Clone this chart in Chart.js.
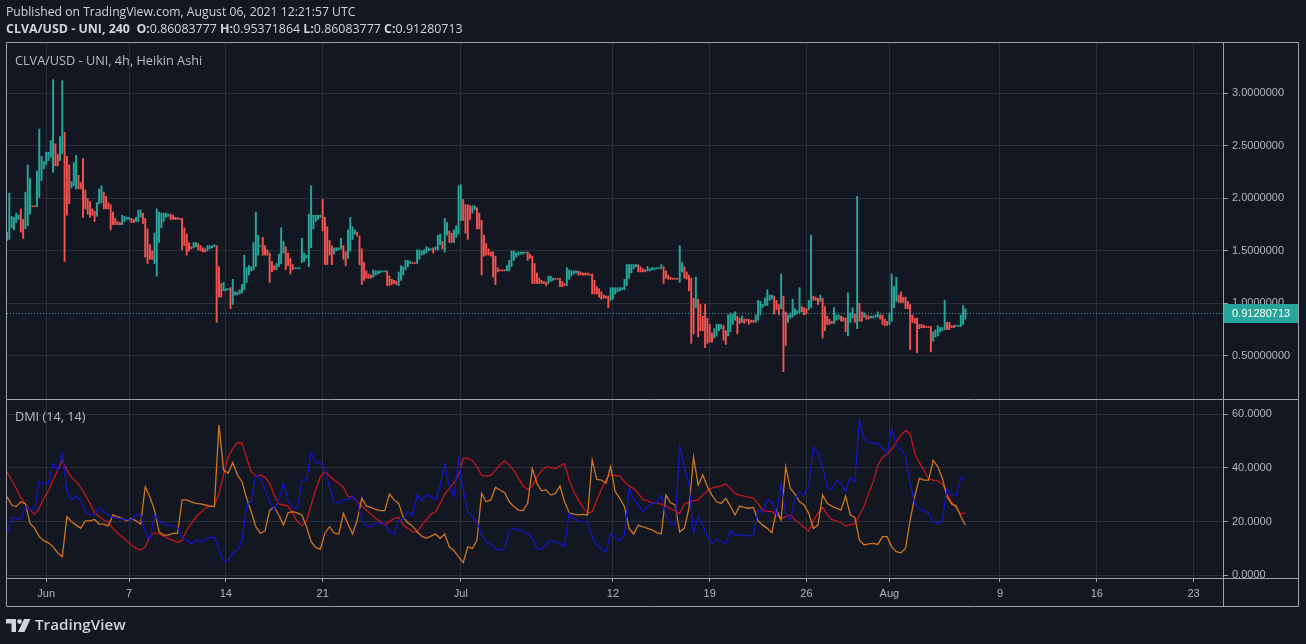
<!DOCTYPE html>
<html>
<head>
<meta charset="utf-8">
<script src="https://cdn.jsdelivr.net/npm/chart.js@4.4.0/dist/chart.umd.min.js"></script>
<style>
html, body { margin: 0; padding: 0; background: #131722; }
#wrap { position: relative; width: 1306px; height: 644px; overflow: hidden; background: #131722; }
#c { position: absolute; left: 0; top: 0; }
.t { position: absolute; white-space: nowrap; font-family: "Open Sans", sans-serif; line-height: 1; }
.b { font-weight: 700; }
</style>
</head>
<body>
<div id="wrap">
  <canvas id="c" width="1306" height="644"></canvas>
  <div class="t" style="left:6px;top:6px;font-size:12.2px;color:#d1d4dc">Published on TradingView.com, August 06, 2021 12:21:57 UTC</div>
  <div class="t" style="left:6px;top:23px;font-size:12.4px;color:#d1d4dc"><span class="b">CLVA/USD - UNI, 240</span>&nbsp; <span class="b">O:</span>0.86083777 <span class="b">H:</span>0.95371864 <span class="b">L:</span>0.86083777 <span class="b">C:</span>0.91280713</div>
  <div class="t" style="left:15px;top:54px;font-size:12.7px;color:#b8bbc3">CLVA/USD - UNI, 4h, Heikin Ashi</div>
  <div class="t" style="left:15px;top:410px;font-size:12.7px;color:#b8bbc3">DMI (14, 14)</div>
  <svg style="position:absolute;left:6px;top:619px" width="25" height="13" viewBox="0 0 25 13">
    <path d="M0 0h10v13h-4.5v-8.5h-5.5z" fill="#d1d4dc"/>
    <circle cx="13.5" cy="2.6" r="2.4" fill="#d1d4dc"/>
    <path d="M18 0h6.5l-6 13h-6.5z" fill="#d1d4dc"/>
  </svg>
  <div class="t" style="left:35px;top:617px;font-size:15.2px;font-weight:600;color:#d1d4dc">TradingView</div>
</div>
<script>
// Heikin Ashi 4h candles, first candle = May 29 04:00 UTC
const candleLows = [
  1.60,1.61,1.72,1.70,1.77,1.80,1.68,1.62,1.71,1.74,
  1.85,1.92,1.92,1.92,2.01,2.17,2.28,2.32,2.36,2.39,
  2.25,2.31,2.31,2.36,2.43,1.40,1.84,1.95,2.10,2.12,
  2.09,2.09,2.09,1.82,1.90,1.85,1.82,1.84,1.78,1.83,
  1.95,1.96,1.90,1.90,1.90,1.70,1.75,1.75,1.75,1.75,
  1.75,1.78,1.80,1.80,1.77,1.77,1.78,1.78,1.82,1.76,
  1.44,1.38,1.42,1.42,1.38,1.26,1.58,1.72,1.78,1.82,
  1.83,1.80,1.80,1.80,1.80,1.80,1.51,1.55,1.46,1.50,
  1.52,1.53,1.54,1.51,1.50,1.49,1.49,1.50,1.52,1.53,
  1.54,0.82,1.06,1.06,1.12,1.12,1.13,0.95,0.99,1.08,
  1.08,1.09,1.10,1.13,1.20,1.27,1.31,1.32,1.35,1.46,
  1.54,1.46,1.46,1.46,1.20,1.30,1.32,1.32,1.35,1.38,
  1.48,1.32,1.36,1.28,1.32,1.33,1.33,1.33,1.39,1.40,
  1.43,1.35,1.53,1.71,1.78,1.80,1.82,1.69,1.37,1.37,
  1.46,1.37,1.47,1.50,1.51,1.52,1.42,1.36,1.43,1.50,
  1.61,1.66,1.64,1.37,1.18,1.22,1.24,1.24,1.24,1.25,
  1.27,1.28,1.29,1.30,1.30,1.17,1.17,1.18,1.19,1.18,
  1.17,1.22,1.27,1.32,1.35,1.38,1.38,1.38,1.38,1.42,
  1.46,1.47,1.48,1.50,1.51,1.48,1.51,1.51,1.56,1.52,
  1.49,1.65,1.58,1.58,1.58,1.63,1.66,1.79,1.79,1.67,
  1.61,1.80,1.86,1.89,1.71,1.71,1.27,1.45,1.46,1.46,
  1.45,1.25,1.18,1.30,1.31,1.31,1.31,1.31,1.31,1.35,
  1.41,1.44,1.46,1.47,1.47,1.48,1.41,1.43,1.19,1.19,
  1.19,1.19,1.19,1.19,1.17,1.19,1.21,1.22,1.23,1.23,
  1.16,1.16,1.17,1.17,1.23,1.26,1.28,1.29,1.27,1.27,
  1.27,1.27,1.27,1.27,1.09,1.09,1.09,1.06,1.04,1.05,
  1.05,0.96,1.03,1.04,1.09,1.11,1.12,1.13,1.13,1.17,
  1.24,1.29,1.33,1.35,1.30,1.30,1.30,1.30,1.31,1.31,
  1.32,1.32,1.33,1.33,1.33,1.19,1.24,1.23,1.23,1.23,
  1.23,1.23,1.20,1.30,1.24,1.23,1.12,0.62,0.71,0.96,
  0.68,0.74,0.74,0.58,0.62,0.63,0.63,0.67,0.69,0.74,
  0.76,0.65,0.61,0.69,0.73,0.80,0.84,0.71,0.81,0.82,
  0.81,0.83,0.80,0.82,0.82,0.82,0.84,0.89,0.96,0.98,
  0.98,1.03,1.04,0.90,0.94,0.89,0.95,0.35,0.60,0.82,
  0.86,0.87,0.89,0.90,0.91,0.92,0.89,0.90,0.94,0.96,
  1.03,1.03,0.99,1.02,0.67,0.74,0.80,0.80,0.81,0.81,
  0.84,0.85,0.83,0.83,0.73,0.69,0.82,0.86,0.82,0.76,
  0.83,0.83,0.87,0.85,0.85,0.86,0.86,0.87,0.87,0.85,
  0.80,0.79,0.79,0.80,0.83,0.96,1.02,1.01,1.01,1.01,
  0.95,0.95,0.56,0.82,0.81,0.53,0.76,0.77,0.77,0.77,
  0.77,0.54,0.64,0.68,0.69,0.73,0.74,0.75,0.75,0.75,
  0.77,0.77,0.78,0.78,0.78,0.80,0.85
];
const candleHighs = [
  1.68,2.05,1.83,1.82,1.86,1.84,1.90,1.80,2.06,2.32,
  2.19,1.93,1.93,2.26,2.66,2.40,2.35,2.44,2.44,2.55,
  3.13,2.52,2.42,2.59,3.12,2.63,2.40,2.32,2.16,2.34,
  2.41,2.22,2.15,2.38,2.08,2.00,1.97,1.90,1.88,1.96,
  2.09,2.12,2.06,2.02,1.96,1.94,1.87,1.81,1.78,1.77,
  1.84,1.83,1.82,1.82,1.81,1.80,1.82,1.89,1.89,1.86,
  1.81,1.71,1.56,1.50,1.67,1.90,1.87,1.86,1.86,1.86,
  1.85,1.85,1.84,1.82,1.82,1.81,1.81,1.72,1.66,1.58,
  1.54,1.58,1.58,1.57,1.55,1.53,1.52,1.55,1.55,1.55,
  1.56,1.55,1.35,1.19,1.20,1.14,1.14,1.15,1.23,1.11,
  1.11,1.13,1.18,1.46,1.34,1.36,1.35,1.58,1.87,1.65,
  1.55,1.63,1.55,1.51,1.48,1.40,1.36,1.38,1.47,1.72,
  1.59,1.54,1.48,1.43,1.37,1.34,1.34,1.34,1.62,1.48,
  1.46,1.85,2.12,1.84,1.84,1.84,1.84,1.99,1.82,1.73,
  1.60,1.55,1.53,1.53,1.53,1.62,1.55,1.49,1.70,1.82,
  1.73,1.70,1.68,1.64,1.52,1.39,1.31,1.28,1.27,1.32,
  1.31,1.31,1.31,1.31,1.31,1.31,1.26,1.23,1.22,1.21,
  1.30,1.36,1.35,1.41,1.41,1.40,1.39,1.39,1.51,1.51,
  1.50,1.51,1.54,1.53,1.52,1.53,1.54,1.65,1.66,1.59,
  1.81,1.77,1.69,1.67,1.70,1.74,2.12,2.13,1.99,1.94,
  1.94,1.93,1.93,1.93,1.91,1.86,1.79,1.65,1.57,1.52,
  1.49,1.49,1.45,1.34,1.32,1.32,1.32,1.36,1.41,1.50,
  1.50,1.48,1.49,1.49,1.49,1.49,1.49,1.47,1.45,1.38,
  1.29,1.24,1.22,1.21,1.20,1.26,1.26,1.24,1.24,1.24,
  1.24,1.21,1.19,1.34,1.32,1.31,1.31,1.31,1.31,1.30,
  1.29,1.29,1.29,1.28,1.28,1.22,1.16,1.14,1.11,1.08,
  1.07,1.07,1.15,1.15,1.15,1.15,1.15,1.15,1.23,1.37,
  1.37,1.37,1.37,1.37,1.37,1.35,1.33,1.32,1.35,1.33,
  1.34,1.34,1.34,1.34,1.37,1.35,1.31,1.27,1.25,1.24,
  1.24,1.24,1.55,1.39,1.35,1.30,1.27,1.24,1.05,1.25,
  1.04,0.99,0.88,0.99,0.86,0.80,0.72,0.76,0.80,0.80,
  0.80,0.79,0.74,0.89,0.91,0.90,0.92,0.88,0.86,0.88,
  0.85,0.85,0.85,0.84,0.84,0.89,1.03,1.02,0.99,1.05,
  1.13,1.08,1.08,1.07,1.03,0.99,1.28,1.07,0.92,0.89,
  0.91,1.04,0.95,0.93,1.15,0.97,0.96,0.95,1.03,1.65,
  1.07,1.06,1.05,1.08,1.05,0.97,0.88,0.85,0.83,0.96,
  0.89,0.89,0.88,0.87,0.86,1.10,0.91,0.96,0.90,2.02,
  1.00,0.92,0.91,0.89,0.88,0.88,0.88,0.89,0.92,0.89,
  0.89,0.85,0.83,0.91,1.28,1.16,1.25,1.08,1.11,1.06,
  1.06,1.02,0.99,0.89,0.86,0.86,0.80,0.80,0.79,0.78,
  0.78,0.78,0.73,0.75,0.79,0.77,0.77,1.03,0.82,0.82,
  0.79,0.79,0.79,0.79,0.89,0.98,0.95
];
// u = rising (teal), d = falling (red)
const candleDir =
  "uuuuuudduu" + "udduuuuuuu" + "udduuddduu" + "uddddddddu" + "uudddddddd" +
  "uuuudduuud" + "dddduuuuuu" + "uddddddddd" + "duudddduuu" + "uddduuuduu" +
  "uuuuuuuuuu" + "udddddduuu" + "udddduuuuu" + "uuuuuuuddd" + "dduuuudduu" +
  "uudddddddu" + "uuuuuddddd" + "uuuuuudduu" + "uuuuuduuud" + "uudduuuudd" +
  "dduudddddd" + "ddddddduuu" + "uuuuuudddd" + "ddddduuudd" + "ddduuuuudd" +
  "dddddddddd" + "dduuuuuuuu" + "uuuudddduu" + "uuuuuddddd" + "dduudddddu" +
  "ddddddduuu" + "udduuuuddu" + "ddddduuuuu" + "uuuddduddu" + "uuuuuddduu" +
  "dddudddddu" + "uuddduuudu" + "ddudduuuud" + "ddduuuuddd" + "dddddddddd" +
  "dduuuuuudd" + "dduuuuu";
const lastClose = 0.91280713;

// DMI (14, 14) values, one every second candle
const adx = [
  38.6,35.5,32.4,29.0,26.6,24.3,22.7,25.0,28.7,31.5,
  35.5,39.2,42.7,39.2,36.5,34.9,32.8,29.9,26.8,23.3,
  21.8,20.6,19.6,17.5,15.6,14.4,12.8,11.3,10.0,9.4,
  10.6,14.4,16.0,15.4,14.6,13.8,13.1,12.2,13.1,16.9,
  19.3,21.8,23.3,25.0,25.8,25.8,30.5,37.4,44.2,47.3,
  49.4,49.4,43.6,38.6,37.0,37.4,36.5,34.3,29.9,26.6,
  26.2,25.8,23.1,20.0,18.4,20.3,26.2,32.0,36.7,38.6,37.0,
  35.5,34.3,32.8,29.3,29.3,27.4,25.8,24.3,22.8,21.2,
  20.0,18.7,20.0,21.2,21.6,18.7,17.5,16.2,16.2,18.7,
  20.6,22.8,23.7,26.8,30.3,32.4,34.5,37.4,43.6,43.6,
  42.7,40.5,37.2,37.0,37.2,39.2,41.1,42.7,41.1,39.0,
  36.1,33.3,32.0,33.3,36.5,39.0,40.5,40.1,39.8,40.7,
  41.7,35.5,31.2,28.1,25.3,23.1,23.7,28.1,32.0,35.7,
  37.6,37.2,37.0,34.9,33.3,32.4,30.5,28.3,
  27.8,27.0,26.8,26.5,25.8,24.9,24.1,23.1,26.5,27.4,
  27.8,28.1,29.9,31.5,32.6,33.0,33.3,34.0,32.4,30.5,
  29.9,29.5,29.0,28.7,26.8,24.1,23.9,23.7,22.5,21.2,
  21.8,22.5,20.6,19.3,17.9,16.5,20.3,23.1,25.3,22.5,
  20.8,20.3,19.6,18.4,18.9,19.3,22.5,25.8,30.5,34.9,
  41.1,43.9,45.2,46.9,49.8,52.3,53.9,52.9,45.4,42.0,
  39.2,36.0,35.5,35.2,34.0,30.5,27.4,25.0,22.8,23.4
];
const plusDI = [
  15.0,21.6,21.2,20.8,25.6,24.3,24.9,34.9,34.0,34.3,
  41.7,39.2,45.4,31.2,28.0,29.5,28.0,23.7,22.5,22.5,
  25.3,23.7,22.5,21.6,21.2,21.0,20.8,20.6,22.5,22.5,
  16.2,13.4,22.5,20.0,19.3,18.7,18.4,17.9,14.1,13.1,
  11.9,13.1,12.5,13.1,14.1,14.1,9.4,5.4,5.4,8.4,
  9.2,13.1,25.6,28.0,37.4,36.1,31.8,27.4,24.3,28.1,
  34.3,28.1,25.3,24.9,35.5,35.5,45.7,42.0,42.0,39.0,33.0,
  27.4,26.8,28.1,28.1,29.5,27.4,20.6,18.4,18.1,19.6,
  19.3,19.1,16.2,15.4,20.6,20.8,23.7,22.5,29.9,27.8,
  29.9,29.3,28.1,33.6,41.5,33.0,29.5,43.0,31.8,23.7,
  21.8,20.0,15.0,12.5,11.6,10.0,9.4,9.7,16.2,17.5,
  16.9,16.6,15.6,13.8,10.0,9.7,11.3,13.1,12.5,11.9,
  10.6,23.1,21.2,20.3,20.0,19.8,14.4,11.3,10.0,8.8,
  15.6,13.8,13.1,15.0,32.4,28.3,26.2,23.7,
  25.6,26.8,26.8,29.9,22.5,19.3,18.9,48.0,40.5,33.6,
  15.7,21.8,18.7,14.4,11.9,13.4,12.5,11.9,16.6,15.0,
  15.0,15.0,14.6,15.0,24.3,23.3,28.1,27.4,22.5,34.3,
  22.8,20.6,28.3,31.2,29.9,33.6,47.9,45.7,40.5,32.8,
  32.0,35.2,34.3,31.2,36.5,34.9,58.0,51.0,49.5,49.2,
  49.2,47.3,45.2,54.5,48.5,46.7,44.2,34.3,26.8,24.6,
  24.1,23.1,20.0,19.3,20.6,32.4,29.9,29.9,36.1,36.5
];
const minusDI = [
  29.3,26.2,25.6,27.4,26.6,19.3,17.5,14.4,12.9,12.1,
  10.6,8.4,6.9,21.8,20.0,18.7,17.5,20.3,20.3,20.8,
  19.1,19.1,18.4,22.5,21.8,21.2,20.3,21.2,20.3,19.1,
  33.0,29.3,24.3,16.2,15.0,15.0,15.6,15.6,28.1,28.1,
  27.4,26.8,26.6,26.2,25.8,25.6,56.0,39.2,38.0,42.0,
  37.4,34.9,28.7,23.7,18.1,15.6,16.6,24.3,25.3,22.5,
  18.7,23.3,23.7,23.3,22.5,18.1,12.5,10.4,9.7,15.7,18.1,
  15.7,15.4,23.1,19.1,15.4,20.6,28.7,25.8,25.3,24.6,
  24.1,24.1,30.3,28.1,26.8,21.6,19.6,18.4,16.2,14.6,
  13.8,14.6,15.4,13.8,15.4,10.6,9.2,6.9,4.7,10.6,
  10.0,13.1,30.5,27.4,28.1,32.8,31.8,30.8,27.4,25.6,
  24.3,24.1,26.8,39.8,34.3,31.5,31.8,29.9,30.5,33.3,
  27.4,23.3,22.8,22.5,22.7,22.5,43.0,35.7,35.5,34.3,
  40.5,31.2,28.7,25.6,17.5,15.4,18.7,18.1,
  17.5,16.9,15.9,15.4,29.9,27.0,26.2,16.2,17.5,25.0,
  44.0,33.6,37.4,33.0,29.9,27.4,26.8,28.7,25.8,22.5,
  25.8,25.3,25.0,25.3,20.3,18.7,17.5,15.9,24.3,20.6,
  40.5,32.4,30.3,27.4,26.2,23.1,17.5,18.7,29.9,26.8,
  25.8,25.0,24.3,29.5,22.5,21.6,13.1,11.3,11.7,11.9,
  11.5,14.4,14.4,10.6,8.8,8.4,10.0,20.6,29.3,36.1,
  35.5,35.5,42.9,40.5,36.1,29.3,26.6,25.8,21.9,18.7
];

// x axis: candle index; day labels at midnight of these days
const dayTickIdx = [17, 53, 95, 137, 197, 263, 305, 347, 383, 431, 473, 515];
const dayTickLabels = ['Jun', '7', '14', '21', 'Jul', '12', '19', '26', 'Aug', '9', '16', '23'];
const priceTicks = [0.5, 1.0, 1.5, 2.0, 2.5, 3.0];
const priceTickLabels = ['0.50000000', '1.0000000', '1.5000000', '2.0000000', '2.5000000', '3.0000000'];
const dmiTicks = [0, 20, 40, 60];
const dmiTickLabels = ['0.0000', '20.0000', '40.0000', '60.0000'];

const UP = '#26a69a', DOWN = '#ef5350';
const GRID = '#2a2e39', AXIS_TEXT = '#b2b5be', FRAME = '#9ea1aa', BG = '#131722';
const axisFont = { family: '"Liberation Sans", Arial, sans-serif', size: 11 };

const candleData = candleLows.map((lo, i) => ({ x: i, y: [lo, candleHighs[i]] }));
const dmiPoints = arr => arr.map((v, k) => ({ x: k * 2, y: v }));

const framePlugin = {
  id: 'frame',
  beforeDraw(chart) {
    const c = chart.ctx;
    c.save();
    c.fillStyle = BG;
    c.fillRect(0, 0, chart.width, chart.height);
    c.restore();
  },
  afterDatasetsDraw(chart) {
    const c = chart.ctx, a = chart.chartArea;
    const py = Math.round(chart.scales.y.getPixelForValue(lastClose)) + 0.5;
    c.save();
    c.strokeStyle = UP;
    c.lineWidth = 1;
    c.setLineDash([1, 2]);
    c.beginPath();
    c.moveTo(a.left, py);
    c.lineTo(a.right, py);
    c.stroke();
    c.restore();
  },
  afterDraw(chart) {
    const c = chart.ctx, a = chart.chartArea;
    const yDiv = Math.round(chart.scales.y.bottom) + 0.5;
    const yAx = Math.round(a.bottom) + 0.5;
    const xAx = Math.round(a.right) + 0.5;
    const L = 6.5, T = 42.5, R = 1298.5, B = 606.5;
    c.save();
    // clear below x-axis line in the price-axis column
    c.fillStyle = BG;
    c.fillRect(xAx + 0.5, yAx + 0.5, R - xAx - 1, B - yAx - 1);
    // price label
    const py = Math.round(chart.scales.y.getPixelForValue(lastClose));
    c.fillStyle = UP;
    c.fillRect(xAx + 0.5, py - 9, R - xAx - 0.5, 19);
    c.fillStyle = '#ffffff';
    c.font = '11px "Liberation Sans", Arial, sans-serif';
    c.textBaseline = 'middle';
    c.fillText(lastClose.toFixed(8), 1232, py + 1);
    // frame
    c.strokeStyle = FRAME;
    c.lineWidth = 1;
    c.setLineDash([]);
    c.beginPath();
    c.rect(L, T, R - L, B - T);
    c.moveTo(L, yDiv); c.lineTo(R, yDiv);
    c.moveTo(L, yAx); c.lineTo(R, yAx);
    c.moveTo(xAx, T); c.lineTo(xAx, B);
    c.stroke();
    c.restore();
  }
};

new Chart(document.getElementById('c'), {
  type: 'bar',
  data: {
    datasets: [
      {
        type: 'bar',
        data: candleData,
        xAxisID: 'x',
        yAxisID: 'y',
        barThickness: 1.3,
        minBarLength: 1,
        borderWidth: 0,
        grouped: false,
        backgroundColor: ctx => candleDir[ctx.dataIndex] === 'u' ? UP : DOWN
      },
      {
        type: 'line', data: dmiPoints(plusDI), xAxisID: 'x', yAxisID: 'dmi',
        borderColor: '#1414c8', borderWidth: 1.3, pointRadius: 0, tension: 0
      },
      {
        type: 'line', data: dmiPoints(minusDI), xAxisID: 'x', yAxisID: 'dmi',
        borderColor: '#d0761a', borderWidth: 1.3, pointRadius: 0, tension: 0
      },
      {
        type: 'line', data: dmiPoints(adx), xAxisID: 'x', yAxisID: 'dmi',
        borderColor: '#c4161c', borderWidth: 1.3, pointRadius: 0, tension: 0
      }
    ]
  },
  options: {
    responsive: false,
    animation: false,
    events: [],
    layout: { padding: { left: 7, top: 43, right: 7, bottom: 37 } },
    plugins: { legend: { display: false }, tooltip: { enabled: false } },
    scales: {
      x: {
        type: 'linear',
        min: 0,
        max: 527.8,
        offset: false,
        border: { display: false },
        grid: { color: GRID, offset: false, tickLength: 4, tickColor: FRAME },
        afterBuildTicks: s => { s.ticks = dayTickIdx.map(v => ({ value: v })); },
        afterFit: s => { s.height = 29; },
        ticks: {
          autoSkip: false, maxRotation: 0, color: AXIS_TEXT, font: axisFont, padding: 5,
          callback: (v, i) => dayTickLabels[i]
        }
      },
      y: {
        type: 'linear',
        position: 'right',
        stack: 'pane',
        stackWeight: 356,
        min: 0.09,
        max: 3.48,
        border: { display: false },
        grid: { color: GRID, tickLength: 5, tickColor: FRAME },
        afterBuildTicks: s => { s.ticks = priceTicks.map(v => ({ value: v })); },
        afterFit: s => { s.width = 76; },
        ticks: {
          color: AXIS_TEXT, font: axisFont, padding: 4,
          callback: (v, i) => priceTickLabels[i]
        }
      },
      dmi: {
        type: 'linear',
        position: 'right',
        stack: 'pane',
        stackWeight: 179,
        min: -1.0,
        max: 65.7,
        border: { display: false },
        grid: { color: GRID, tickLength: 5, tickColor: FRAME },
        afterBuildTicks: s => { s.ticks = dmiTicks.map(v => ({ value: v })); },
        afterFit: s => { s.width = 76; },
        ticks: {
          color: AXIS_TEXT, font: axisFont, padding: 4,
          callback: (v, i) => dmiTickLabels[i]
        }
      }
    }
  },
  plugins: [framePlugin]
});
</script>
</body>
</html>
